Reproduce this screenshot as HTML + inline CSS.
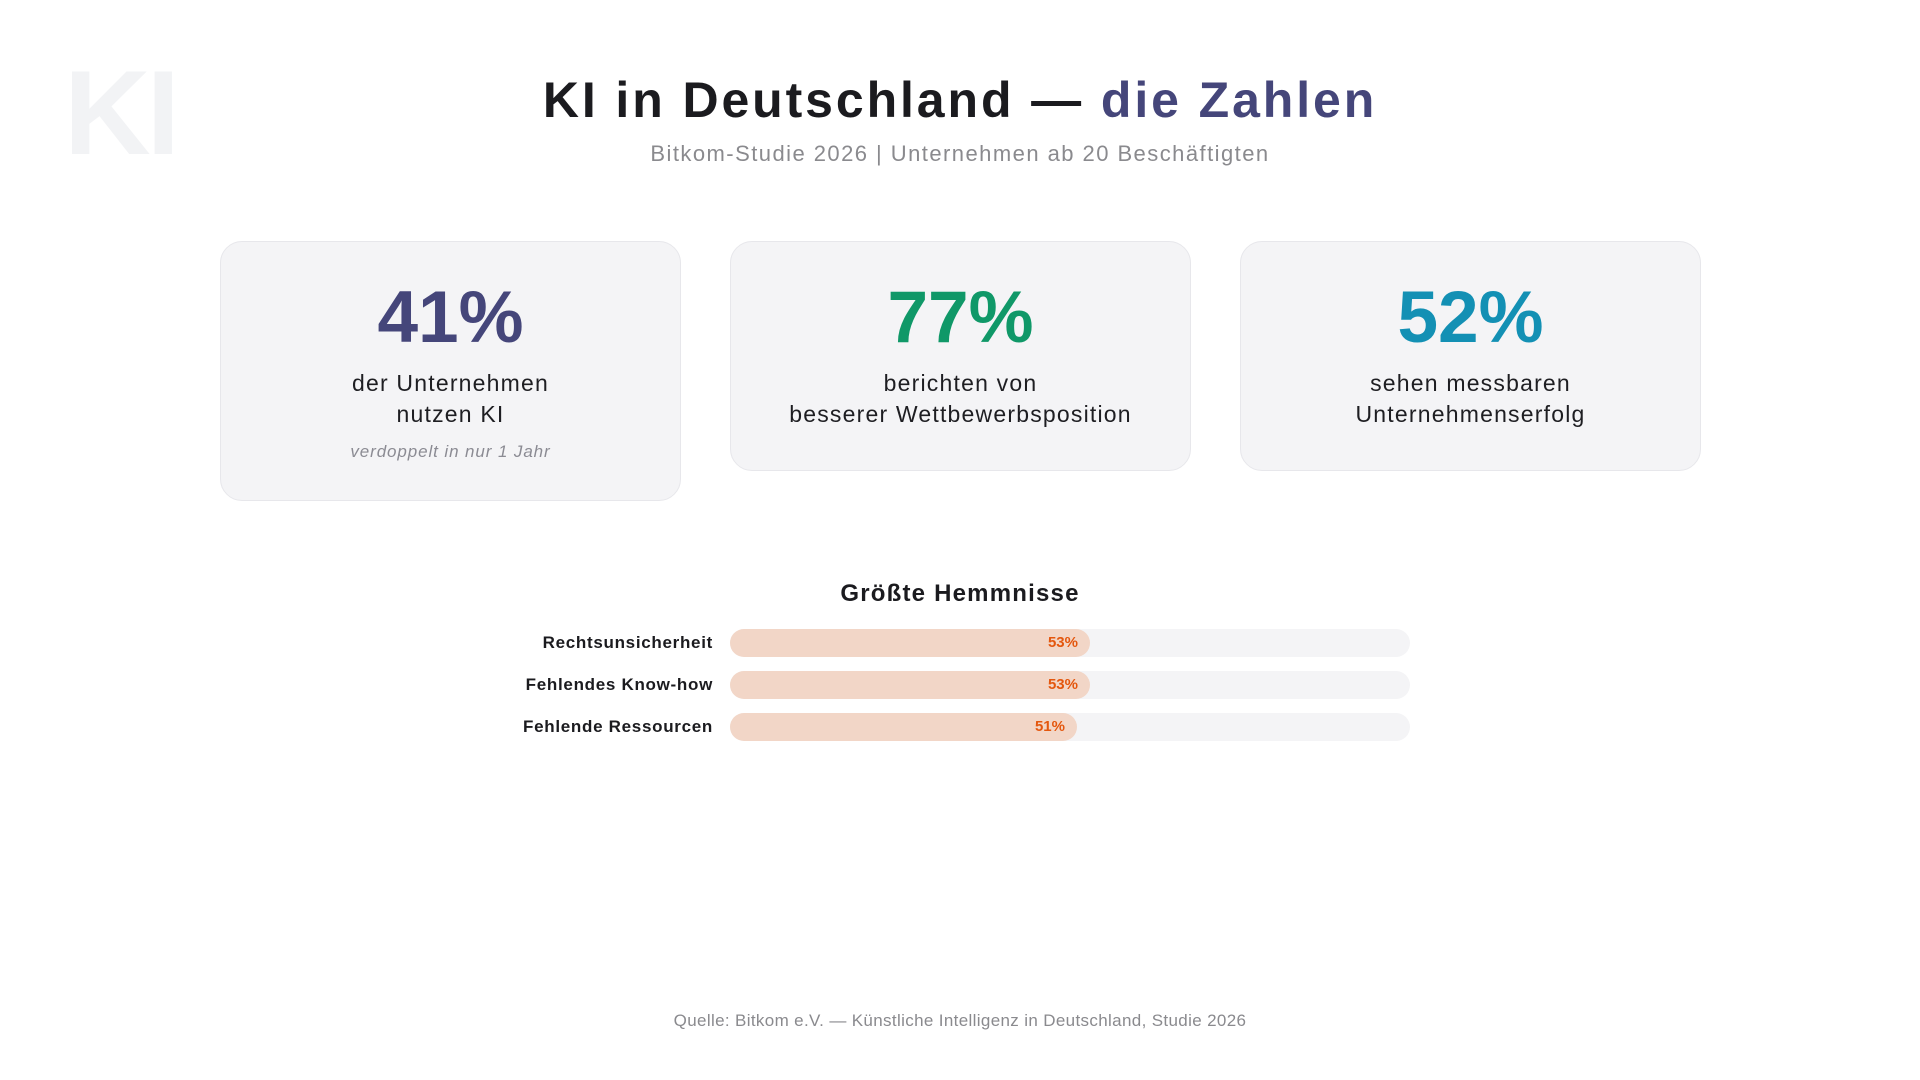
<!DOCTYPE html>
<html lang="de">
<head>
<meta charset="utf-8">
<style>
  html, body { margin:0; padding:0; }
  body { width:1920px; height:1080px; background:#ffffff; position:relative; overflow:hidden;
         font-family:"Liberation Sans", "DejaVu Sans", sans-serif; }
  .abs { position:absolute; }
  .center { left:0; width:1920px; text-align:center; white-space:nowrap; }
  .wm { left:64px; top:53px; font-size:120px; line-height:120px; font-weight:700; color:#f2f3f5; letter-spacing:-4px; }
  .title { top:70px; font-size:50px; line-height:60px; font-weight:700; color:#1b1b1f; letter-spacing:2.9px; }
  .title .acc { color:#45467a; }
  .sub { top:139px; font-size:22px; line-height:30px; color:#8a8a8e; letter-spacing:1.45px; }
  .card { position:absolute; top:241px; width:459px; background:#f4f4f6; border:1px solid #e7e7eb; border-radius:22px; }
  .card .num { position:absolute; left:0; width:459px; top:36px; text-align:center; font-size:73px; line-height:80px; font-weight:700; letter-spacing:0px; }
  .card .lbl { position:absolute; left:0; width:459px; top:126px; text-align:center; font-size:23px; line-height:31px; color:#1e1e22; letter-spacing:1.2px; }
  .card .it { position:absolute; left:0; width:459px; top:198px; text-align:center; font-size:17px; line-height:24px; font-style:italic; color:#8b8b93; letter-spacing:0.9px; }
  .btitle { top:579px; font-size:24px; line-height:30px; font-weight:700; color:#1b1b1f; letter-spacing:1.2px; }
  .blabel { position:absolute; left:400px; width:313px; text-align:right; font-size:17px; line-height:28px; font-weight:700; color:#1b1b1f; letter-spacing:0.7px; white-space:nowrap; }
  .track { position:absolute; left:730px; width:680px; height:28px; border-radius:14px; background:#f4f4f6; }
  .fill { position:absolute; left:0; top:0; height:28px; border-radius:14px; background:#f2d6c7; }
  .fill span { position:absolute; right:12px; top:0; font-size:15px; line-height:28px; font-weight:700; color:#e4570e; }
  .foot { top:1011px; font-size:17px; line-height:20px; color:#8a8a8e; letter-spacing:0.35px; }
</style>
</head>
<body>
  <div class="abs wm">KI</div>

  <div class="abs center title">KI in Deutschland — <span class="acc">die Zahlen</span></div>
  <div class="abs center sub">Bitkom-Studie 2026 | Unternehmen ab 20 Beschäftigten</div>

  <div class="card" style="left:220px; height:258px;">
    <div class="num" style="color:#45467a;">41%</div>
    <div class="lbl">der Unternehmen<br>nutzen KI</div>
    <div class="it">verdoppelt in nur 1 Jahr</div>
  </div>

  <div class="card" style="left:730px; height:228px;">
    <div class="num" style="color:#109868;">77%</div>
    <div class="lbl">berichten von<br>besserer Wettbewerbsposition</div>
  </div>

  <div class="card" style="left:1240px; height:228px;">
    <div class="num" style="color:#1390b4;">52%</div>
    <div class="lbl">sehen messbaren<br>Unternehmenserfolg</div>
  </div>

  <div class="abs center btitle">Größte Hemmnisse</div>

  <div class="blabel" style="top:629px;">Rechtsunsicherheit</div>
  <div class="track" style="top:629px;"><div class="fill" style="width:360px;"><span>53%</span></div></div>

  <div class="blabel" style="top:671px;">Fehlendes Know-how</div>
  <div class="track" style="top:671px;"><div class="fill" style="width:360px;"><span>53%</span></div></div>

  <div class="blabel" style="top:713px;">Fehlende Ressourcen</div>
  <div class="track" style="top:713px;"><div class="fill" style="width:347px;"><span>51%</span></div></div>

  <div class="abs center foot">Quelle: Bitkom e.V. — Künstliche Intelligenz in Deutschland, Studie 2026</div>
</body>
</html>
